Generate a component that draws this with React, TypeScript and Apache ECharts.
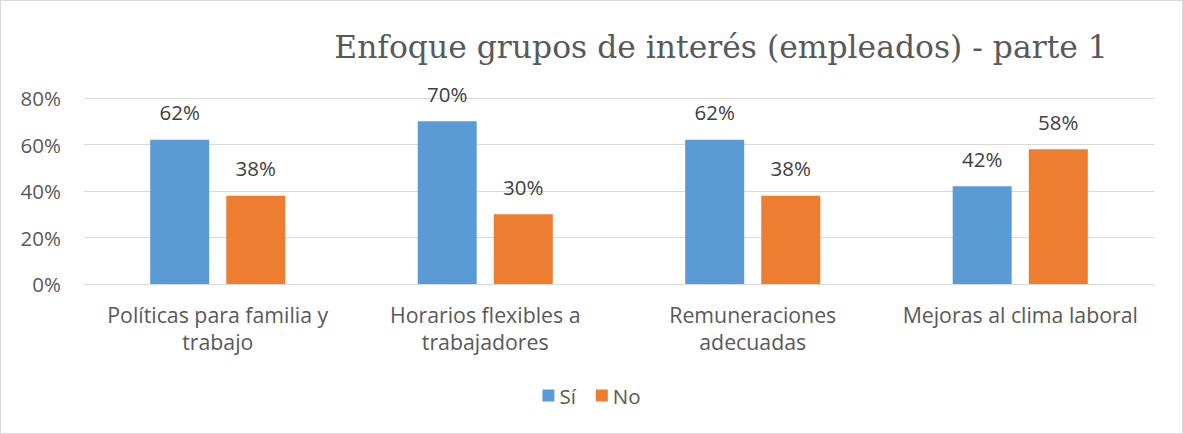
import React, { useEffect, useRef } from "react";
import * as echarts from "echarts";

const categories = [
  "Políticas para familia y\ntrabajo",
  "Horarios flexibles a\ntrabajadores",
  "Remuneraciones\nadecuadas",
  "Mejoras al clima laboral",
];
const siValues = [62, 70, 62, 42];
const noValues = [38, 30, 38, 58];
const seriesNames = ["Sí", "No"];
const titleText = "Enfoque grupos de interés (empleados) - parte 1";

export default function App() {
  const ref = useRef<HTMLDivElement>(null);
  useEffect(() => {
    if (!ref.current) return;
    const chart = echarts.init(ref.current, null, { renderer: "svg" });
    const font = "'Open Sans', 'Noto Sans', sans-serif";
    const fs = 20.5;
    const labelStyle = {
      show: true,
      position: "top",
      distance: 17,
      formatter: "{c}%",
      color: "#404040",
      fontSize: fs,
      fontFamily: font,
    };
    chart.setOption({
      animation: false,
      backgroundColor: "#ffffff",
      title: {
        text: titleText,
        left: 715,
        textAlign: "center",
        top: 25,
        textStyle: {
          fontFamily: "'DejaVu Serif', serif",
          fontWeight: "normal",
          fontSize: 31.4,
          color: "#595959",
        },
      },
      legend: {
        data: seriesNames,
        bottom: 22,
        left: "center",
        icon: "rect",
        itemWidth: 12,
        itemHeight: 12,
        itemGap: 20,
        textStyle: { color: "#595959", fontSize: fs, fontFamily: font },
      },
      grid: { left: 83, right: 28, top: 97, bottom: 149, containLabel: false },
      xAxis: {
        type: "category",
        data: categories,
        axisLine: { show: true, lineStyle: { color: "#d9d9d9" } },
        axisTick: { show: false },
        axisLabel: {
          color: "#595959",
          fontSize: 21.3,
          fontFamily: font,
          lineHeight: 27,
          margin: 17,
          interval: 0,
        },
      },
      yAxis: {
        type: "value",
        min: 0,
        max: 80,
        interval: 20,
        axisLine: { show: false },
        axisTick: { show: false },
        splitLine: { lineStyle: { color: "#d9d9d9", width: 1 } },
        axisLabel: {
          formatter: "{value}%",
          color: "#595959",
          fontSize: fs,
          fontFamily: font,
          margin: 23,
        },
      },
      series: [
        {
          name: seriesNames[0],
          type: "bar",
          data: siValues,
          barWidth: 59,
          barGap: "29%",
          itemStyle: { color: "#5B9BD5" },
          label: labelStyle,
        },
        {
          name: seriesNames[1],
          type: "bar",
          data: noValues,
          barWidth: 59,
          itemStyle: { color: "#ED7D31" },
          label: labelStyle,
        },
      ],
    });
    return () => chart.dispose();
  }, []);
  return (
    <div
      style={{
        position: "absolute",
        left: 0,
        top: 0,
        width: 1183,
        height: 434,
        boxSizing: "border-box",
        border: "1px solid #d9d9d9",
        background: "#fff",
      }}
    >
      <div ref={ref} style={{ width: 1181, height: 432 }} />
    </div>
  );
}
